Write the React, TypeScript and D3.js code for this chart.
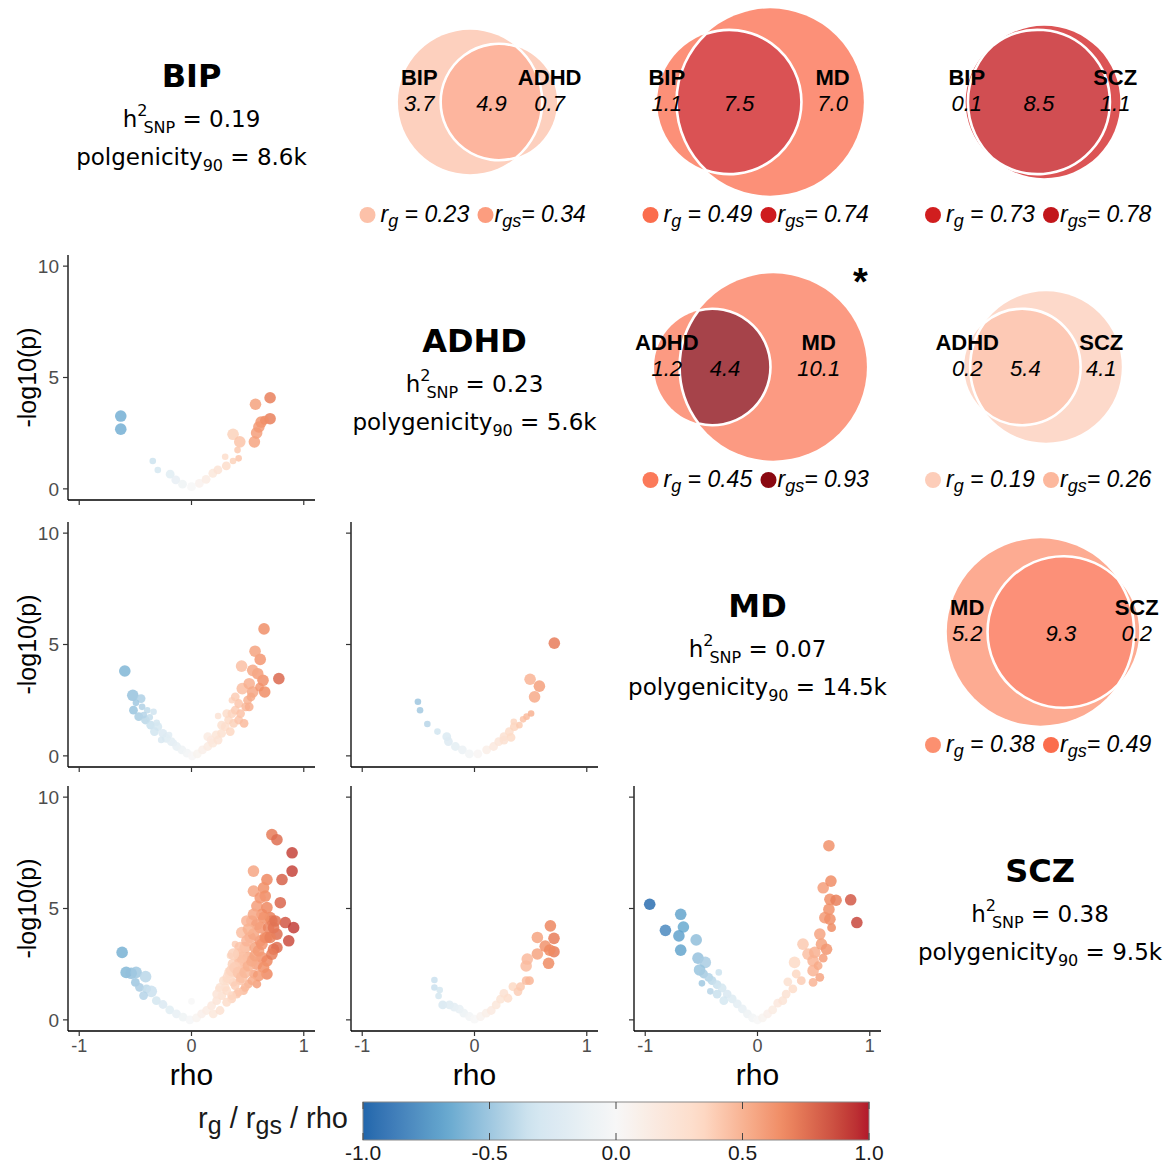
import React from "react";
import * as d3 from "d3";

// diagonal: trait summaries
const traits = ["BIP", "ADHD", "MD", "SCZ"];
const h2snp = ["0.19", "0.23", "0.07", "0.38"];
const polyWord = ["polgenicity", "polygenicity", "polygenicity", "polygenicity"];
const polyValue = ["8.6k", "5.6k", "14.5k", "9.5k"];

// upper triangle: venn of causal variants (thousands), row trait left, column trait right
const vennRow = [0, 0, 0, 1, 1, 2];
const vennCol = [1, 2, 3, 2, 3, 3];
const vennLeft = [3.7, 1.1, 0.1, 1.2, 0.2, 5.2];
const vennShared = [4.9, 7.5, 8.5, 4.4, 5.4, 9.3];
const vennRight = [0.7, 7.0, 1.1, 10.1, 4.1, 0.2];
const vennRg = [0.23, 0.49, 0.73, 0.45, 0.19, 0.38];
const vennRgs = [0.34, 0.74, 0.78, 0.93, 0.26, 0.49];
const vennStar = [false, false, false, true, false, false];

// lower triangle: [rho, -log10(p), size class]
const bipAdhd = [
  [-0.63, 3.27, 3], [-0.63, 2.68, 3], [-0.345, 1.25, 1], [-0.3, 0.85, 1], [-0.19, 0.66, 2],
  [-0.14, 0.4, 2], [-0.08, 0.21, 2], [0.0, 0.1, 2], [0.07, 0.25, 2], [0.13, 0.43, 2],
  [0.19, 0.7, 2], [0.235, 0.85, 2], [0.31, 1.03, 2], [0.3, 1.44, 1], [0.37, 1.25, 1],
  [0.42, 1.37, 1], [0.37, 2.45, 3], [0.43, 2.11, 3], [0.41, 1.74, 1], [0.56, 2.11, 3],
  [0.58, 2.51, 3], [0.6, 2.78, 3], [0.62, 3.0, 3], [0.7, 3.15, 3], [0.57, 3.8, 3],
  [0.7, 4.09, 3], [0.65, 3.08, 2],
];
const bipMd = [
  [-0.594, 3.81, 3], [-0.523, 2.72, 3], [-0.449, 2.57, 2], [-0.495, 2.38, 1], [-0.517, 2.05, 2],
  [-0.44, 2.2, 1], [-0.394, 2.05, 1], [-0.338, 1.98, 1], [-0.47, 1.76, 2], [-0.41, 1.61, 2],
  [-0.425, 1.83, 1], [-0.372, 1.73, 1], [-0.363, 1.38, 2], [-0.31, 1.49, 1], [-0.3, 1.31, 2],
  [-0.33, 1.09, 2], [-0.255, 1.01, 2], [-0.225, 0.79, 2], [-0.27, 0.71, 1], [-0.2, 0.94, 1],
  [-0.18, 0.64, 2], [-0.157, 0.57, 1], [-0.132, 0.42, 2], [-0.086, 0.27, 2], [-0.04, 0.12, 2],
  [0.006, 0.0, 2], [0.052, 0.09, 2], [0.098, 0.27, 2], [0.145, 0.42, 2], [0.145, 0.86, 2],
  [0.175, 0.71, 2], [0.19, 0.57, 2], [0.22, 0.94, 2], [0.237, 0.71, 2], [0.237, 1.79, 1],
  [0.268, 1.01, 2], [0.268, 1.38, 2], [0.3, 1.31, 2], [0.314, 1.9, 2], [0.345, 1.09, 2],
  [0.33, 1.61, 2], [0.36, 1.9, 2], [0.36, 2.5, 1], [0.375, 1.46, 2], [0.39, 2.05, 2],
  [0.39, 2.65, 2], [0.42, 1.61, 2], [0.42, 2.35, 2], [0.437, 1.9, 2], [0.468, 1.46, 2],
  [0.483, 2.2, 2], [0.5, 2.5, 2], [0.514, 2.2, 2], [0.53, 2.65, 2], [0.452, 3.02, 3],
  [0.514, 3.24, 3], [0.545, 2.87, 3], [0.606, 3.09, 2], [0.652, 2.87, 3], [0.637, 3.39, 3],
  [0.59, 3.69, 3], [0.545, 3.84, 3], [0.446, 4.03, 3], [0.612, 4.33, 3], [0.566, 4.7, 3],
  [0.646, 5.7, 3], [0.778, 3.47, 3],
];
const adhdMd = [
  [-0.504, 2.43, 1], [-0.485, 2.05, 1], [-0.42, 1.43, 1], [-0.33, 1.09, 1], [-0.247, 0.86, 2],
  [-0.232, 0.64, 2], [-0.17, 0.42, 2], [-0.108, 0.27, 2], [-0.046, 0.09, 2], [0.03, 0.09, 2],
  [0.108, 0.27, 2], [0.17, 0.42, 2], [0.216, 0.64, 2], [0.263, 0.86, 2], [0.31, 1.09, 2],
  [0.355, 1.31, 2], [0.4, 1.38, 1], [0.433, 1.64, 1], [0.464, 1.76, 1], [0.504, 1.9, 1],
  [0.325, 0.83, 2], [0.263, 0.71, 2], [0.35, 1.53, 1], [0.535, 2.65, 3], [0.578, 3.13, 3],
  [0.495, 3.44, 3], [0.711, 5.06, 3],
];
const bipScz = [
  [-0.618, 3.03, 3], [-0.582, 2.13, 3], [-0.537, 2.09, 3], [-0.493, 2.13, 3], [-0.409, 1.94, 3],
  [-0.5, 1.68, 2], [-0.463, 1.46, 2], [-0.4, 1.39, 2], [-0.358, 1.28, 3], [-0.427, 1.09, 2],
  [-0.313, 0.86, 2], [-0.254, 0.69, 2], [-0.194, 0.45, 2], [-0.134, 0.27, 2], [-0.075, 0.12, 2],
  [0.0, 0.83, 1], [-0.015, 0.0, 2], [0.045, 0.09, 2], [0.09, 0.27, 2], [0.134, 0.42, 2],
  [0.179, 0.64, 2], [0.224, 0.86, 2], [0.239, 1.39, 1], [0.27, 1.09, 2], [0.3, 1.46, 2],
  [0.313, 1.76, 2], [0.343, 2.13, 3], [0.373, 1.68, 2], [0.373, 2.5, 3], [0.403, 2.06, 2],
  [0.418, 2.95, 3], [0.433, 1.76, 2], [0.463, 2.35, 3], [0.478, 3.25, 3], [0.448, 3.92, 3],
  [0.507, 2.8, 3], [0.522, 3.7, 3], [0.552, 2.06, 2], [0.537, 4.44, 3], [0.567, 3.25, 3],
  [0.582, 5.11, 3], [0.612, 4.14, 3], [0.627, 2.8, 3], [0.552, 5.78, 3], [0.657, 5.56, 3],
  [0.672, 2.06, 3], [0.672, 3.7, 3], [0.701, 4.59, 3], [0.731, 3.17, 3], [0.761, 3.85, 3],
  [0.672, 2.65, 3], [0.552, 6.68, 3], [0.672, 6.3, 3], [0.716, 8.32, 3], [0.761, 8.09, 3],
  [0.806, 6.3, 3], [0.896, 7.5, 3], [0.896, 6.68, 3], [0.791, 5.26, 3], [0.836, 4.37, 3],
  [0.91, 4.14, 3], [0.866, 3.55, 3], [0.761, 3.25, 3], [0.716, 4.44, 3], [0.642, 4.59, 3],
  [0.493, 4.44, 3], [0.507, 1.61, 2], [0.582, 1.61, 2], [0.463, 1.31, 2], [0.403, 1.16, 2],
  [0.358, 0.94, 2], [0.313, 0.79, 2], [0.433, 2.65, 3], [0.582, 2.5, 3], [0.343, 2.88, 1],
  [0.194, 0.27, 2], [0.254, 0.42, 2], [0.612, 3.55, 3], [0.388, 3.4, 1],
  [0.224, 1.16, 2], [0.254, 1.46, 2], [0.284, 1.76, 2], [0.328, 1.91, 3], [0.358, 2.21, 3],
  [0.388, 2.35, 3], [0.418, 2.13, 3], [0.448, 1.91, 3], [0.478, 2.13, 3], [0.507, 2.43, 3],
  [0.537, 2.65, 3], [0.567, 2.88, 3], [0.597, 3.1, 3], [0.627, 3.4, 3], [0.657, 3.7, 3],
  [0.687, 4.14, 3], [0.433, 3.25, 3], [0.493, 3.55, 3], [0.552, 3.85, 3], [0.582, 4.29, 3],
  [0.627, 4.74, 3], [0.672, 5.04, 3], [0.552, 4.74, 3], [0.507, 4.07, 3], [0.716, 2.95, 3],
  [0.642, 2.35, 3], [0.597, 1.98, 3], [0.537, 1.76, 2], [0.478, 1.46, 2], [0.418, 1.24, 2],
  [0.358, 1.09, 2], [0.313, 1.31, 2], [0.388, 1.54, 2], [0.448, 2.8, 3], [0.373, 2.95, 3],
  [0.701, 3.7, 3], [0.731, 4.14, 3], [0.746, 4.44, 3], [0.612, 5.48, 3], [0.642, 5.93, 3],
];
const adhdScz = [
  [-0.357, 1.79, 1], [-0.357, 1.45, 1], [-0.31, 1.34, 1], [-0.32, 1.07, 1], [-0.283, 0.67, 2],
  [-0.223, 0.67, 2], [-0.18, 0.57, 2], [-0.134, 0.48, 2], [-0.095, 0.3, 2], [-0.045, 0.15, 2],
  [0.0, 0.03, 2], [0.054, 0.15, 2], [0.104, 0.3, 2], [0.149, 0.42, 2], [0.193, 0.67, 2],
  [0.232, 0.93, 2], [0.262, 1.19, 2], [0.298, 0.97, 2], [0.342, 1.49, 2], [0.387, 1.27, 2],
  [0.41, 1.49, 2], [0.46, 1.76, 2], [0.49, 1.76, 2], [0.46, 2.42, 3], [0.47, 2.73, 3],
  [0.56, 2.96, 3], [0.56, 3.7, 3], [0.66, 2.54, 3], [0.676, 4.22, 3], [0.708, 3.66, 3],
  [0.63, 3.31, 3], [0.708, 3.06, 3], [0.67, 3.13, 3],
];
const mdScz = [
  [-0.96, 5.19, 3], [-0.82, 4.02, 3], [-0.684, 4.74, 3], [-0.66, 4.17, 3], [-0.7, 3.77, 3],
  [-0.684, 3.13, 3], [-0.546, 3.59, 3], [-0.53, 2.77, 3], [-0.465, 2.58, 3], [-0.516, 2.24, 3],
  [-0.48, 2.06, 2], [-0.435, 1.91, 2], [-0.345, 2.13, 1], [-0.495, 1.64, 1], [-0.405, 1.76, 2],
  [-0.36, 1.58, 2], [-0.315, 1.43, 2], [-0.42, 1.28, 1], [-0.27, 1.16, 2], [-0.36, 1.16, 2],
  [-0.225, 0.94, 2], [-0.3, 0.86, 2], [-0.18, 0.72, 2], [-0.135, 0.49, 2], [-0.09, 0.27, 2],
  [-0.045, 0.09, 2], [0.0, 0.0, 2], [0.045, 0.09, 2], [0.09, 0.27, 2], [0.135, 0.45, 2],
  [0.18, 0.75, 2], [0.225, 0.86, 2], [0.255, 1.16, 2], [0.27, 1.71, 2], [0.315, 1.39, 2],
  [0.345, 2.06, 2], [0.39, 1.76, 2], [0.33, 2.58, 3], [0.405, 3.4, 3], [0.45, 2.95, 3],
  [0.495, 2.65, 3], [0.51, 3.03, 3], [0.495, 2.21, 3], [0.54, 2.43, 2], [0.495, 1.68, 2],
  [0.555, 1.91, 2], [0.555, 3.85, 3], [0.57, 3.4, 3], [0.615, 3.17, 3], [0.585, 2.77, 2],
  [0.6, 4.59, 3], [0.636, 4.96, 3], [0.645, 5.41, 3], [0.585, 5.93, 3], [0.654, 6.23, 3],
  [0.7, 5.37, 3], [0.636, 7.82, 3], [0.83, 5.39, 3], [0.885, 4.37, 3], [0.645, 4.52, 3],
  [0.66, 4.14, 2],
];
const scatterSets = [bipAdhd, bipMd, adhdMd, bipScz, adhdScz, mdScz];
const scatterRow = [1, 2, 2, 3, 3, 3];
const scatterCol = [0, 0, 1, 0, 1, 2];

const xTicks = [-1, 0, 1];
const yTicks = [0, 5, 10];
const barTicks = [-1, -0.5, 0, 0.5, 1];

const cellX = [191.5, 474.5, 757.5, 1040];
const cellY = [102, 367, 632, 897];
const panelLeft = [68, 351, 634];
const panelTop = [0, 255, 522, 786];
const PW = 247;
const PH = 245;
const K = 24.6; // radius per sqrt(thousand variants)

const SANS = "'Liberation Sans', Arial, Helvetica, sans-serif";
const DEJAVU = "'DejaVu Sans', sans-serif";

const rdbu = d3
  .scaleLinear<string>()
  .domain([-1, -2 / 3, -1 / 3, 0, 1 / 3, 2 / 3, 1])
  .range(["#2166AC", "#67A9CF", "#D1E5F0", "#F7F7F7", "#FDDBC7", "#EF8A62", "#B2182B"])
  .interpolate(d3.interpolateLab)
  .clamp(true);

const reds = d3
  .scaleLinear<string>()
  .domain(d3.range(9).map((i) => i / 8))
  .range(d3.schemeReds[9] as string[])
  .clamp(true);

const soft = (c: string) => d3.interpolateRgb("#ffffff", c)(0.76);
const sizeR = [0, 3.3, 4.4, 5.8];

function overlapArea(r1: number, r2: number, d: number) {
  if (d >= r1 + r2) return 0;
  if (d <= Math.abs(r1 - r2)) return Math.PI * Math.min(r1, r2) ** 2;
  const a1 = r1 * r1 * Math.acos((d * d + r1 * r1 - r2 * r2) / (2 * d * r1));
  const a2 = r2 * r2 * Math.acos((d * d + r2 * r2 - r1 * r1) / (2 * d * r2));
  const t = 0.5 * Math.sqrt((-d + r1 + r2) * (d + r1 - r2) * (d - r1 + r2) * (d + r1 + r2));
  return a1 + a2 - t;
}

function solveDistance(r1: number, r2: number, area: number) {
  let lo = Math.abs(r1 - r2);
  let hi = r1 + r2;
  if (area >= overlapArea(r1, r2, lo)) return lo;
  for (let i = 0; i < 60; i++) {
    const mid = (lo + hi) / 2;
    if (overlapArea(r1, r2, mid) > area) lo = mid;
    else hi = mid;
  }
  return (lo + hi) / 2;
}

function Venn({ i }: { i: number }) {
  const cx = cellX[vennCol[i]];
  const cy = cellY[vennRow[i]];
  const t1 = vennLeft[i] + vennShared[i];
  const t2 = vennRight[i] + vennShared[i];
  const r1 = K * Math.sqrt(t1);
  const r2 = K * Math.sqrt(t2);
  const d = solveDistance(r1, r2, Math.PI * K * K * vennShared[i]);
  const left = Math.min(-r1, d - r2);
  const right = Math.max(r1, d + r2);
  const x1 = cx + 3 - (left + right) / 2;
  const x2 = x1 + d;

  let inter: string;
  if (d <= Math.abs(r1 - r2) + 1e-6) {
    const rs = Math.min(r1, r2);
    const xs = r1 < r2 ? x1 : x2;
    inter = `M${xs - rs},${cy}a${rs},${rs} 0 1 0 ${2 * rs},0a${rs},${rs} 0 1 0 ${-2 * rs},0Z`;
  } else {
    const a = (d * d + r1 * r1 - r2 * r2) / (2 * d);
    const h = Math.sqrt(Math.max(0, r1 * r1 - a * a));
    const px = x1 + a;
    const big2 = a > d ? 1 : 0;
    const big1 = a < 0 ? 1 : 0;
    inter = `M${px},${cy - h}A${r2},${r2} 0 ${big2} 0 ${px},${cy + h}A${r1},${r1} 0 ${big1} 0 ${px},${cy - h}Z`;
  }

  const l1 = x1 - r1;
  const l2 = x2 - r2;
  const e1 = x1 + r1;
  const e2 = x2 + r2;
  const xa = (l1 + l2) / 2;
  const xs = (l2 + e1) / 2;
  const xb = (e1 + e2) / 2;
  const fmt = d3.format(".1f");
  const fmt2 = d3.format(".2f");

  return (
    <g>
      <circle cx={x1} cy={cy} r={r1} fill={soft(reds(vennRg[i]))} />
      <circle cx={x2} cy={cy} r={r2} fill={soft(reds(vennRg[i]))} />
      <path d={inter} fill={soft(reds(vennRgs[i]))} stroke="#ffffff" strokeWidth={2.6} />
      <g fontFamily={SANS} fontSize={22} textAnchor="middle" fill="#000">
        <text x={xa} y={cy - 17} fontWeight="bold">{traits[vennRow[i]]}</text>
        <text x={xb} y={cy - 17} fontWeight="bold">{traits[vennCol[i]]}</text>
        <text x={xa} y={cy + 9} fontStyle="italic">{fmt(vennLeft[i])}</text>
        <text x={xs} y={cy + 9} fontStyle="italic">{fmt(vennShared[i])}</text>
        <text x={xb} y={cy + 9} fontStyle="italic">{fmt(vennRight[i])}</text>
      </g>
      <circle cx={cx - 107} cy={cy + 113} r={8} fill={reds(vennRg[i])} />
      <circle cx={cx + 11} cy={cy + 113} r={8} fill={reds(vennRgs[i])} />
      <g fontFamily={SANS} fontSize={23} fontStyle="italic" fill="#000">
        <text x={cx - 94} y={cy + 120}>
          r<tspan fontSize={18} dy={5}>g</tspan>
          <tspan dy={-5}> = {fmt2(vennRg[i])}</tspan>
        </text>
        <text x={cx + 20} y={cy + 120}>
          r<tspan fontSize={18} dy={5}>gs</tspan>
          <tspan dy={-5}>= {fmt2(vennRgs[i])}</tspan>
        </text>
      </g>
      {vennStar[i] && (
        <text x={cx + 103} y={cy - 72} fontFamily={SANS} fontWeight="bold" fontSize={38} textAnchor="middle">
          *
        </text>
      )}
    </g>
  );
}

function Diagonal({ i }: { i: number }) {
  const cx = cellX[i];
  const cy = cellY[i];
  return (
    <g fontFamily={DEJAVU} textAnchor="middle" fill="#000">
      <text x={cx} y={cy - 15} fontSize={32} fontWeight="bold">{traits[i]}</text>
      <text x={cx} y={cy + 25} fontSize={23}>
        h<tspan fontSize={16} dy={-11}>2</tspan>
        <tspan fontSize={16} dx={-4} dy={17}>SNP</tspan>
        <tspan dy={-6}> = {h2snp[i]}</tspan>
      </text>
      <text x={cx} y={cy + 63} fontSize={23}>
        {polyWord[i]}
        <tspan fontSize={16} dy={6}>90</tspan>
        <tspan dy={-6}> = {polyValue[i]}</tspan>
      </text>
    </g>
  );
}

function Scatter({ i }: { i: number }) {
  const r = scatterRow[i];
  const c = scatterCol[i];
  const left = panelLeft[c];
  const top = panelTop[r];
  const x = d3.scaleLinear().domain([-1.1, 1.1]).range([left, left + PW]);
  const y = d3.scaleLinear().domain([-0.5, 10.5]).range([top + PH, top]);
  const bottom = top + PH;
  return (
    <g>
      {scatterSets[i].map(([rho, lp, s], k) => (
        <circle key={k} cx={x(rho)} cy={y(lp)} r={sizeR[s]} fill={rdbu(rho)} fillOpacity={0.85} />
      ))}
      <line x1={left} x2={left} y1={top} y2={bottom} stroke="#000" strokeWidth={1.3} />
      <line x1={left} x2={left + PW} y1={bottom} y2={bottom} stroke="#000" strokeWidth={1.3} />
      {yTicks.map((t) => (
        <g key={"y" + t}>
          <line x1={left - 5} x2={left} y1={y(t)} y2={y(t)} stroke="#333" strokeWidth={1.2} />
          {c === 0 && (
            <text x={left - 9} y={y(t)} dy="0.35em" textAnchor="end" fontFamily={SANS} fontSize={19} fill="#4d4d4d">
              {t}
            </text>
          )}
        </g>
      ))}
      {xTicks.map((t) => (
        <g key={"x" + t}>
          <line x1={x(t)} x2={x(t)} y1={bottom} y2={bottom + 5} stroke="#333" strokeWidth={1.2} />
          {r === 3 && (
            <text x={x(t)} y={bottom + 21} textAnchor="middle" fontFamily={SANS} fontSize={18} fill="#4d4d4d">
              {t}
            </text>
          )}
        </g>
      ))}
      {c === 0 && (
        <text
          transform={`translate(36,${top + PH / 2}) rotate(-90)`}
          textAnchor="middle"
          fontFamily={SANS}
          fontSize={25}
          fill="#000"
        >
          -log10(p)
        </text>
      )}
      {r === 3 && (
        <text x={left + PW / 2} y={bottom + 54} textAnchor="middle" fontFamily={SANS} fontSize={30} fill="#000">
          rho
        </text>
      )}
    </g>
  );
}

function ColorBar() {
  const x = d3.scaleLinear().domain([-1, 1]).range([363, 869]);
  const y0 = 1102;
  const y1 = 1140;
  const stops = d3.range(0, 41).map((k) => -1 + k / 20);
  return (
    <g>
      <defs>
        <linearGradient id="rdbuGrad" x1="0" x2="1" y1="0" y2="0">
          {stops.map((v) => (
            <stop key={v} offset={(v + 1) / 2} stopColor={rdbu(v)} />
          ))}
        </linearGradient>
      </defs>
      <rect x={x(-1)} y={y0} width={x(1) - x(-1)} height={y1 - y0} fill="url(#rdbuGrad)" stroke="#888" strokeWidth={1} />
      {barTicks.map((t) => (
        <g key={t}>
          <line x1={x(t)} x2={x(t)} y1={y0} y2={y0 + 7} stroke="#444" strokeWidth={1} />
          <line x1={x(t)} x2={x(t)} y1={y1 - 7} y2={y1} stroke="#444" strokeWidth={1} />
          <text x={x(t)} y={1160} textAnchor="middle" fontFamily={SANS} fontSize={21} fill="#1a1a1a">
            {t.toFixed(1)}
          </text>
        </g>
      ))}
      <text x={348} y={1128} textAnchor="end" fontFamily={SANS} fontSize={29} fill="#1a1a1a">
        r<tspan fontSize={25} dy={6}>g</tspan>
        <tspan dy={-6}> / r</tspan>
        <tspan fontSize={25} dy={6}>gs</tspan>
        <tspan dy={-6}> / rho</tspan>
      </text>
    </g>
  );
}

export default function App() {
  return (
    <>
      <style>{`body{margin:0}`}</style>
      <svg width={1175} height={1165} style={{ display: "block", background: "#fff" }}>
        {traits.map((_, i) => (
          <Diagonal key={"d" + i} i={i} />
        ))}
        {vennRow.map((_, i) => (
          <Venn key={"v" + i} i={i} />
        ))}
        {scatterSets.map((_, i) => (
          <Scatter key={"s" + i} i={i} />
        ))}
        <ColorBar />
      </svg>
    </>
  );
}
